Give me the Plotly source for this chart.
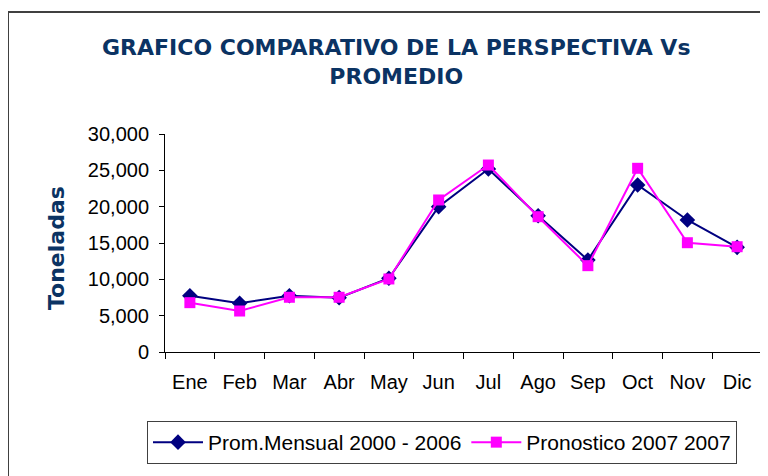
import plotly.graph_objects as go

months = ["Ene", "Feb", "Mar", "Abr", "May", "Jun", "Jul", "Ago", "Sep", "Oct", "Nov", "Dic"]
prom_mensual = [7750, 6700, 7750, 7480, 10150, 20000, 25180, 18760, 12660, 22980, 18170, 14400]
pronostico = [6790, 5640, 7530, 7530, 10050, 20920, 25730, 18620, 11880, 25280, 15040, 14490]
y_ticks = [0, 5000, 10000, 15000, 20000, 25000, 30000]

# page has an 8px body margin; work in page coordinates and convert
OFF = 8
W, H = 768 - OFF, 476 - OFF
PL, PR, PT, PB = 165, 762, 134, 352  # plot area in page pixels
L = PL - OFF
T = PT - OFF
R = W - (PR - OFF)
B = H - (PB - OFF)
pw, ph = PR - PL, PB - PT

def px(x):
    return (x - PL) / pw

def py(y):
    return (PB - y) / ph

fig = go.Figure()
fig.add_trace(go.Scatter(
    x=months, y=prom_mensual, name="Prom.Mensual 2000 - 2006",
    mode="lines+markers",
    line=dict(color="#000080", width=2),
    marker=dict(symbol="diamond", size=12, color="#000080"),
))
fig.add_trace(go.Scatter(
    x=months, y=pronostico, name="Pronostico 2007 2007",
    mode="lines+markers",
    line=dict(color="#FF00FF", width=2),
    marker=dict(symbol="square", size=11, color="#FF00FF"),
))

fig.update_layout(
    width=W, height=H,
    margin=dict(l=L, r=R, t=T, b=B, pad=0, autoexpand=False),
    paper_bgcolor="white", plot_bgcolor="white",
    font=dict(family="Liberation Sans, Arial, sans-serif", size=20, color="black"),
    showlegend=True,
    legend=dict(
        orientation="h", x=px(147), y=py(421), xanchor="left", yanchor="top",
        bordercolor="#404040", borderwidth=1,
        font=dict(family="Liberation Sans, Arial, sans-serif", size=21, color="black"),
        itemwidth=50, tracegroupgap=0,
    ),
    xaxis=dict(
        type="category", range=[-0.5, 11.5], showgrid=False,
        showline=True, linecolor="black", linewidth=1,
        ticks="outside", tickson="boundaries", ticklen=6, tickcolor="black",
        tickfont=dict(size=20), ticklabelstandoff=12, fixedrange=True,
    ),
    yaxis=dict(
        range=[0, 30000], tickvals=y_ticks, tickformat=",", showgrid=False,
        showline=True, linecolor="black", linewidth=1,
        ticks="outside", ticklen=5, tickcolor="black",
        tickfont=dict(size=20), ticklabelstandoff=6, zeroline=False,
    ),
    annotations=[
        dict(
            text="GRAFICO COMPARATIVO DE LA PERSPECTIVA Vs<br>PROMEDIO",
            xref="paper", yref="paper", x=px(396), y=py(62),
            xanchor="center", yanchor="middle", showarrow=False,
            font=dict(family="DejaVu Sans, Verdana, sans-serif", size=22, color="#0B3363", weight="bold"),
        ),
        dict(
            text="Toneladas", textangle=-90,
            xref="paper", yref="paper", x=px(56), y=py(248),
            xanchor="center", yanchor="middle", showarrow=False,
            font=dict(family="DejaVu Sans, Verdana, sans-serif", size=22, color="#0B3363", weight="bold"),
        ),
    ],
    shapes=[
        dict(type="rect", xref="paper", yref="paper",
             x0=px(8), y0=py(12), x1=px(800), y1=py(520),
             line=dict(color="#404040", width=2), layer="below"),
    ],
)

fig.write_html("out.html")
